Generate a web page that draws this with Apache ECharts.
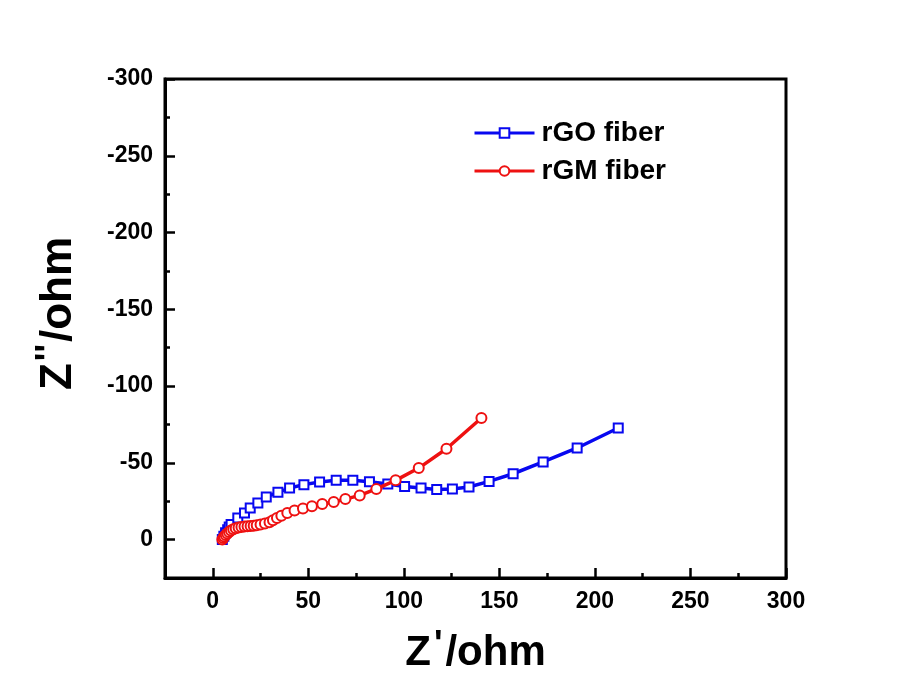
<!DOCTYPE html>
<html>
<head>
<meta charset="utf-8">
<script src="https://cdn.jsdelivr.net/npm/echarts@6/dist/echarts.min.js"></script>
<style>
html,body{margin:0;padding:0;background:#fff;}
#chart{width:899px;height:688px;}
</style>
</head>
<body>
<div id="chart"></div>
<script>
// rGO fiber (blue squares)
var rgoX = [5.0, 5.8, 6.7, 7.8, 8.6, 9.6, 13.1, 16.6, 19.6, 23.6, 28.0, 34.1, 40.2, 47.7, 55.9, 64.6, 73.3, 82.0, 91.6, 100.4, 109.0, 117.2, 125.4, 134.1, 144.6, 157.2, 172.9, 190.7, 212.2];
var rgoY = [0.0, -2.2, -4.5, -6.5, -8.2, -9.8, -14.1, -17.4, -20.6, -23.9, -27.8, -30.8, -33.6, -35.8, -37.5, -38.6, -38.6, -37.7, -36.2, -34.6, -33.6, -32.7, -33.0, -34.3, -37.9, -42.9, -50.6, -59.7, -72.7];
// rGM fiber (red circles)
var rgmX = [5.0, 5.5, 6.0, 6.8, 7.6, 8.5, 9.5, 10.7, 12.0, 13.5, 15.0, 16.6, 18.2, 19.8, 21.4, 23.0, 25.0, 27.3, 29.7, 31.5, 33.6, 35.9, 39.0, 42.8, 47.2, 51.9, 57.3, 63.3, 69.4, 76.9, 85.6, 95.7, 107.8, 122.3, 140.6];
var rgmY = [0.0, -1.0, -2.0, -3.0, -4.0, -5.0, -6.0, -6.8, -7.4, -7.9, -8.2, -8.5, -8.7, -8.9, -9.1, -9.4, -9.8, -10.5, -11.3, -12.6, -14.1, -15.6, -17.4, -18.9, -20.2, -21.7, -23.2, -24.5, -26.4, -28.8, -33.0, -38.6, -46.6, -59.2, -79.2];
// axes
var xMajor = [0, 50, 100, 150, 200, 250, 300];
var xMinor = [25, 75, 125, 175, 225, 275];
var yMajor = [-300, -250, -200, -150, -100, -50, 0];
var yMinor = [-275, -225, -175, -125, -75, -25];
var seriesNames = ['rGO fiber', 'rGM fiber'];

function pairs(xs, ys) { return xs.map(function (x, i) { return [x, ys[i]]; }); }

var FONT = '"Liberation Sans", Arial, sans-serif';
var blue = '#0808f0';
var red = '#ee1111';

var chart = echarts.init(document.getElementById('chart'), null, {renderer: 'canvas'});
chart.setOption({
  backgroundColor: '#ffffff',
  animation: false,
  grid: {left: 165, right: 113, top: 79, bottom: 110, show: true, borderColor: '#000', borderWidth: 3, backgroundColor: 'transparent'},
  legend: {
    left: 473, top: 119, orient: 'vertical', itemWidth: 60, itemHeight: 12, itemGap: 10, padding: 0,
    lineStyle: {width: 3},
    textStyle: {fontFamily: FONT, fontWeight: 'bold', fontSize: 28, color: '#000', lineHeight: 28, padding: [0, 0, 0, 2]},
    data: seriesNames
  },
  xAxis: [{
    type: 'value', min: -25, max: 300, position: 'bottom',
    axisLine: {show: true, onZero: false, lineStyle: {color: '#000', width: 3}},
    axisTick: {show: true, inside: true, length: 10, lineStyle: {color: '#000', width: 2.5}, customValues: xMajor},
    axisLabel: {show: true, customValues: xMajor, margin: 12, color: '#000', fontFamily: FONT, fontWeight: 'bold', fontSize: 23},
    splitLine: {show: false},
    name: '{z|Z}{p|\'}{z|/ohm}', nameLocation: 'middle', nameGap: 50,
    nameTextStyle: {rich: {
      z: {fontFamily: FONT, fontWeight: 'bold', fontSize: 42, color: '#000', lineHeight: 46, verticalAlign: 'bottom'},
      p: {fontFamily: FONT, fontWeight: 'bold', fontSize: 36, color: '#000', lineHeight: 46, verticalAlign: 'top', padding: [0, 3, 0, 3]}
    }}
  }, {
    type: 'value', min: -25, max: 300, position: 'bottom',
    axisLine: {show: false, onZero: false},
    axisTick: {show: true, inside: true, length: 5, lineStyle: {color: '#000', width: 2.5}, customValues: xMinor},
    axisLabel: {show: false}, splitLine: {show: false}
  }],
  yAxis: [{
    type: 'value', min: -300, max: 25, inverse: true, position: 'left',
    axisLine: {show: true, onZero: false, lineStyle: {color: '#000', width: 3}},
    axisTick: {show: true, inside: true, length: 10, lineStyle: {color: '#000', width: 2.5}, customValues: yMajor},
    axisLabel: {show: true, customValues: yMajor, margin: 12, color: '#000', fontFamily: FONT, fontWeight: 'bold', fontSize: 23},
    splitLine: {show: false},
    name: '{z|Z}{p|\'\'}{z|/ohm}', nameLocation: 'middle', nameGap: 84, nameRotate: 90,
    nameTextStyle: {padding: [0, 0, 0, 30], rich: {
      z: {fontFamily: FONT, fontWeight: 'bold', fontSize: 44, color: '#000', lineHeight: 48, verticalAlign: 'bottom'},
      p: {fontFamily: FONT, fontWeight: 'bold', fontSize: 36, color: '#000', lineHeight: 48, verticalAlign: 'top', padding: [0, 2, 0, 2]}
    }}
  }, {
    type: 'value', min: -300, max: 25, inverse: true, position: 'left',
    axisLine: {show: false, onZero: false},
    axisTick: {show: true, inside: true, length: 5, lineStyle: {color: '#000', width: 2.5}, customValues: yMinor},
    axisLabel: {show: false}, splitLine: {show: false}
  }],
  series: [{
    name: seriesNames[0], type: 'line', xAxisIndex: 0, yAxisIndex: 0,
    data: pairs(rgoX, rgoY),
    symbol: 'rect', symbolSize: 9,
    lineStyle: {color: blue, width: 3.5},
    itemStyle: {color: '#fff', borderColor: blue, borderWidth: 2},
    z: 3
  }, {
    name: seriesNames[1], type: 'line', xAxisIndex: 0, yAxisIndex: 0,
    data: pairs(rgmX, rgmY),
    symbol: 'circle', symbolSize: 10,
    lineStyle: {color: red, width: 3.5},
    itemStyle: {color: '#fff', borderColor: red, borderWidth: 2},
    z: 4
  }]
});
</script>
</body>
</html>
